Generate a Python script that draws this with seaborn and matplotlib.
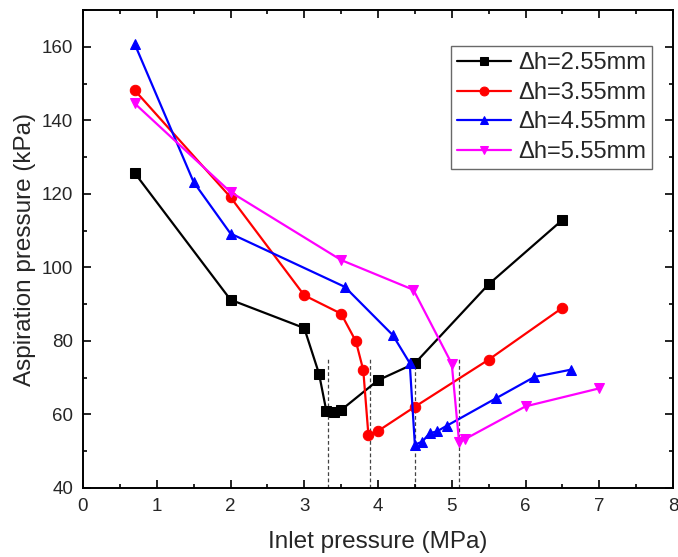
import matplotlib
matplotlib.use("Agg")
import matplotlib.pyplot as plt
import seaborn as sns
import pandas as pd
from matplotlib.ticker import MultipleLocator

sns.set_theme(style="ticks")
plt.rcParams['font.family'] = ['Liberation Sans', 'DejaVu Sans']

labels = ["Δh=2.55mm", "Δh=3.55mm", "Δh=4.55mm", "Δh=5.55mm"]
x_255 = [0.7, 2.0, 3.0, 3.2, 3.3, 3.4, 3.5, 4.0, 4.5, 5.5, 6.5]
y_255 = [125.7, 91.2, 83.5, 71.1, 60.9, 60.7, 61.2, 69.3, 73.9, 95.4, 112.9]
x_355 = [0.7, 2.0, 3.0, 3.5, 3.7, 3.8, 3.87, 4.0, 4.5, 5.5, 6.5]
y_355 = [148.2, 119.1, 92.4, 87.4, 79.9, 72.1, 54.4, 55.5, 62.1, 74.9, 89.0]
x_455 = [0.7, 1.5, 2.0, 3.55, 4.2, 4.43, 4.5, 4.6, 4.7, 4.8, 4.93, 5.6, 6.12, 6.62]
y_455 = [160.8, 123.2, 109.2, 94.7, 81.6, 74.0, 51.8, 52.6, 54.9, 55.4, 56.9, 64.4, 70.2, 72.2]
x_555 = [0.7, 2.0, 3.5, 4.48, 5.0, 5.1, 5.18, 6.0, 7.0]
y_555 = [144.6, 120.5, 102.0, 93.9, 73.8, 52.4, 53.3, 62.2, 67.1]
dash_x = [3.32, 3.89, 4.5, 5.1]
dash_top = 75.5

series = [(x_255, y_255), (x_355, y_355), (x_455, y_455), (x_555, y_555)]
colors = ["black", "#ff0000", "#0000ff", "#ff00ff"]
markers = ["s", "o", "^", "v"]

fig = plt.figure(figsize=(6.78, 5.57), dpi=100)
ax = fig.add_axes([83/678, 69/557, 590/678, 478/557])

for (xs, ys), lab, c, m in zip(series, labels, colors, markers):
    df = pd.DataFrame({"x": xs, "y": ys})
    sns.lineplot(data=df, x="x", y="y", sort=False, color=c, marker=m,
                 markersize=7.5, markeredgecolor=c, linewidth=1.6, label=lab, ax=ax)

for dx in dash_x:
    ax.plot([dx, dx], [40, dash_top], color="#444444", linestyle=(0, (3, 2)), linewidth=0.9, zorder=0)

ax.set_xlim(0, 8)
ax.set_ylim(40, 170)
ax.xaxis.set_major_locator(MultipleLocator(1))
ax.xaxis.set_minor_locator(MultipleLocator(0.5))
ax.yaxis.set_major_locator(MultipleLocator(20))
ax.yaxis.set_minor_locator(MultipleLocator(10))
ax.set_yticks([40, 60, 80, 100, 120, 140, 160])
ax.tick_params(which="both", direction="in", top=True, right=True, labelsize=13.5, color="black", width=1.2)
ax.tick_params(which="major", length=6, pad=7)
ax.tick_params(which="minor", length=3)
for s in ax.spines.values():
    s.set_linewidth(1.4)
    s.set_color("black")
ax.set_xlabel("Inlet pressure (MPa)", fontsize=17.5, labelpad=12)
ax.set_ylabel("Aspiration pressure (kPa)", fontsize=17.5, labelpad=4)

leg = ax.legend(loc="upper right", bbox_to_anchor=(0.964, 0.924), fontsize=17, frameon=True,
                fancybox=False, edgecolor="#444444", handlelength=2.3, borderpad=0.25,
                labelspacing=0.32, handletextpad=0.3, borderaxespad=0, markerscale=0.85)
leg.get_frame().set_linewidth(1.0)

fig.savefig("out.png", dpi=100)
